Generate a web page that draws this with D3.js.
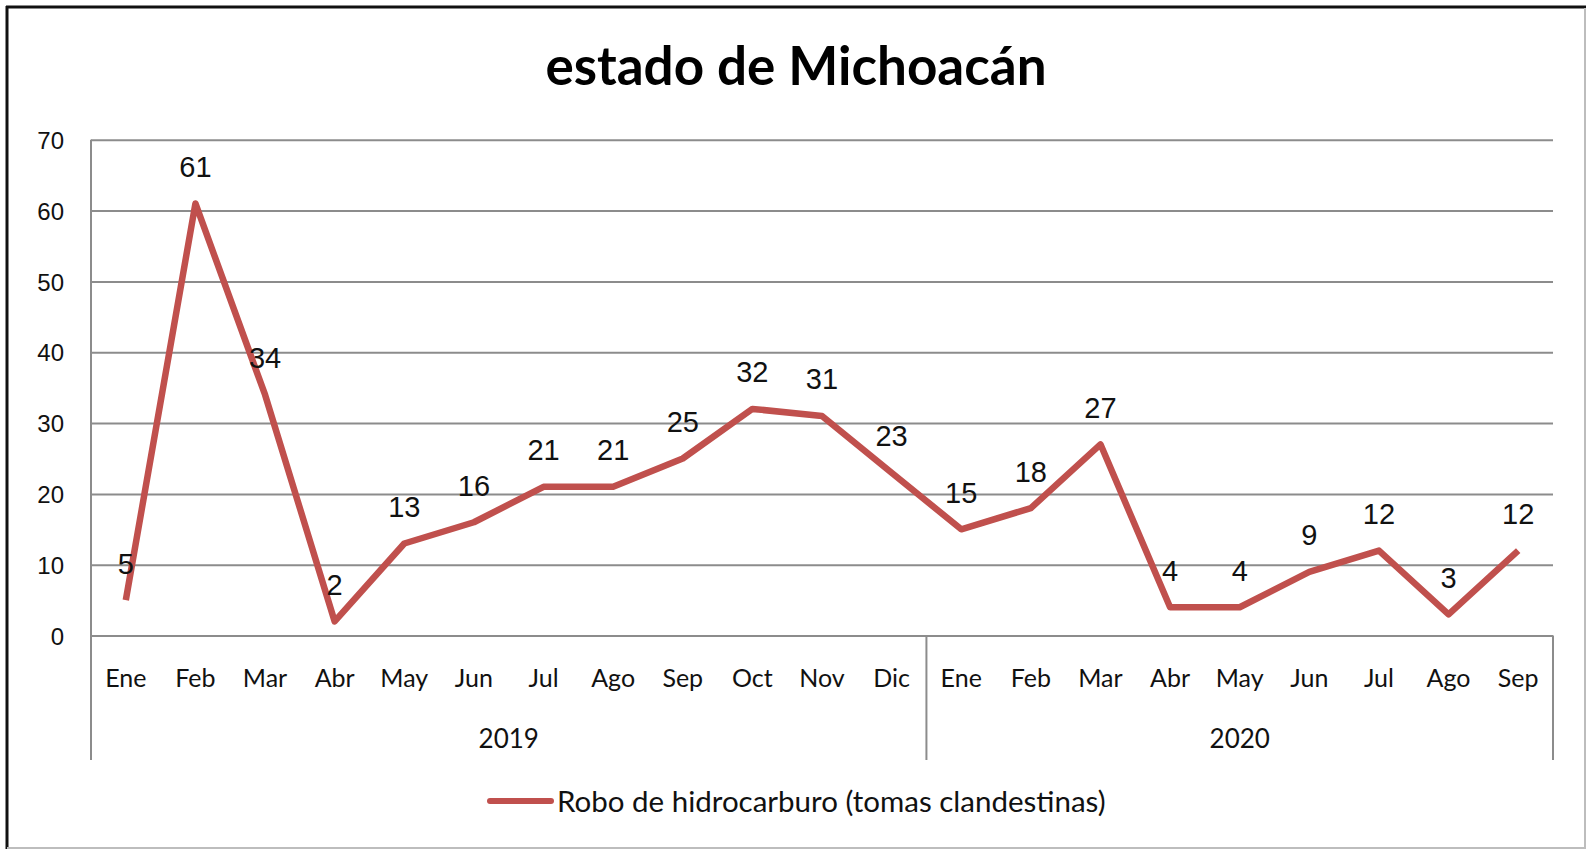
<!DOCTYPE html>
<html>
<head>
<meta charset="utf-8">
<script src="https://cdn.jsdelivr.net/npm/d3@7"></script>
<style>
  body { margin: 0; background: #fff; }
  svg { display: block; }
</style>
</head>
<body>
<svg id="chart"></svg>
<script>
var width = 1587;
var height = 850;

var months2019 = ["Ene", "Feb", "Mar", "Abr", "May", "Jun", "Jul", "Ago", "Sep", "Oct", "Nov", "Dic"];
var months2020 = ["Ene", "Feb", "Mar", "Abr", "May", "Jun", "Jul", "Ago", "Sep"];
var values2019 = [5, 61, 34, 2, 13, 16, 21, 21, 25, 32, 31, 23];
var values2020 = [15, 18, 27, 4, 4, 9, 12, 3, 12];
var years = ["2019", "2020"];
var yTicks = [0, 10, 20, 30, 40, 50, 60, 70];
var seriesName = "Robo de hidrocarburo (tomas clandestinas)";

var lineColor = "#c0504d";
var gridColor = "#8c8c8c";

var data = [];
months2019.forEach(function (m, i) {
	data.push({year: years[0], month: m, value: values2019[i]});
});
months2020.forEach(function (m, i) {
	data.push({year: years[1], month: m, value: values2020[i]});
});
data.forEach(function (d, i) { d.key = i; });

// note: "top" is taken by window.top, so plot* names
var plotLeft = 91, plotRight = 1553, plotTop = 139.7, plotBottom = 635.6, axisBottom = 760;

var svg = d3.select("#chart")
.attr("width", width)
.attr("height", height);

svg.append("rect")
.attr("width", width)
.attr("height", height)
.attr("fill", "#fff");

// outer frame
svg.append("line").attr("x1", 6).attr("x2", 1586).attr("y1", 7).attr("y2", 7)
.attr("stroke", "#111").attr("stroke-width", 3);
svg.append("line").attr("x1", 7).attr("x2", 7).attr("y1", 6).attr("y2", 849)
.attr("stroke", "#111").attr("stroke-width", 3);
svg.append("line").attr("x1", 1585).attr("x2", 1585).attr("y1", 8).attr("y2", 849)
.attr("stroke", "#bdbdbd").attr("stroke-width", 2);
svg.append("line").attr("x1", 7).attr("x2", 1586).attr("y1", 848).attr("y2", 848)
.attr("stroke", "#bdbdbd").attr("stroke-width", 2);

var x = d3.scaleBand()
.domain(data.map(function (d) { return d.key; }))
.range([plotLeft, plotRight]);

var y = d3.scaleLinear()
.domain([0, 70])
.range([plotBottom, plotTop]);

// title
svg.append("text")
.attr("x", 796)
.attr("y", 85)
.attr("text-anchor", "middle")
.style("font-family", "Lato, sans-serif")
.style("font-weight", "bold")
.style("font-size", "53px")
.text("estado de Michoacán");

// gridlines + y labels
var yAxis = svg.append("g")
.attr("transform", "translate(" + plotLeft + ",0)")
.call(d3.axisLeft(y).tickValues(yTicks).tickSize(-(plotRight - plotLeft)).tickPadding(27));

yAxis.select(".domain").remove();
yAxis.selectAll(".tick line")
.attr("stroke", gridColor)
.attr("stroke-width", 2);
yAxis.selectAll(".tick text")
.attr("dy", "0.36em")
.style("font-family", "'Liberation Sans', Arial, sans-serif")
.style("font-size", "24px")
.attr("fill", "#111");

// category axis lines
var sepX = x(data[months2019.length].key);
[[plotLeft, plotTop], [sepX, plotBottom], [plotRight, plotBottom]].forEach(function (p) {
	svg.append("line")
	.attr("x1", p[0]).attr("x2", p[0])
	.attr("y1", p[1]).attr("y2", axisBottom)
	.attr("stroke", gridColor)
	.attr("stroke-width", 2);
});

// month labels
svg.append("g")
.selectAll("text")
.data(data)
.enter()
.append("text")
.attr("x", function (d) { return x(d.key) + x.bandwidth() / 2; })
.attr("y", 687)
.attr("text-anchor", "middle")
.style("font-family", "Lato, sans-serif")
.style("font-size", "25px")
.attr("fill", "#111")
.text(function (d) { return d.month; });

// year labels
years.forEach(function (yr) {
	var items = data.filter(function (d) { return d.year == yr; });
	var x0 = x(items[0].key);
	var x1 = x(items[items.length - 1].key) + x.bandwidth();
	svg.append("text")
	.attr("x", (x0 + x1) / 2)
	.attr("y", 748)
	.attr("text-anchor", "middle")
	.style("font-family", "Lato, sans-serif")
	.style("font-size", "26px")
	.attr("fill", "#111")
	.text(yr);
});

// line
var line = d3.line()
.x(function (d) { return x(d.key) + x.bandwidth() / 2; })
.y(function (d) { return y(d.value); });

svg.append("path")
.datum(data)
.attr("d", line)
.attr("fill", "none")
.attr("stroke", lineColor)
.attr("stroke-width", 6.5)
.attr("stroke-linejoin", "round");

// data labels
svg.append("g")
.selectAll("text")
.data(data)
.enter()
.append("text")
.attr("x", function (d) { return x(d.key) + x.bandwidth() / 2; })
.attr("y", function (d) { return y(d.value) - 26.5; })
.attr("text-anchor", "middle")
.style("font-family", "'Liberation Sans', Arial, sans-serif")
.style("font-size", "29px")
.attr("fill", "#111")
.text(function (d) { return d.value; });

// legend
svg.append("line")
.attr("x1", 490).attr("x2", 551)
.attr("y1", 801).attr("y2", 801)
.attr("stroke", lineColor)
.attr("stroke-width", 6)
.attr("stroke-linecap", "round");

svg.append("text")
.attr("x", 557)
.attr("y", 812)
.style("font-family", "Lato, sans-serif")
.style("font-size", "29.5px")
.attr("fill", "#111")
.text(seriesName);
</script>
</body>
</html>
